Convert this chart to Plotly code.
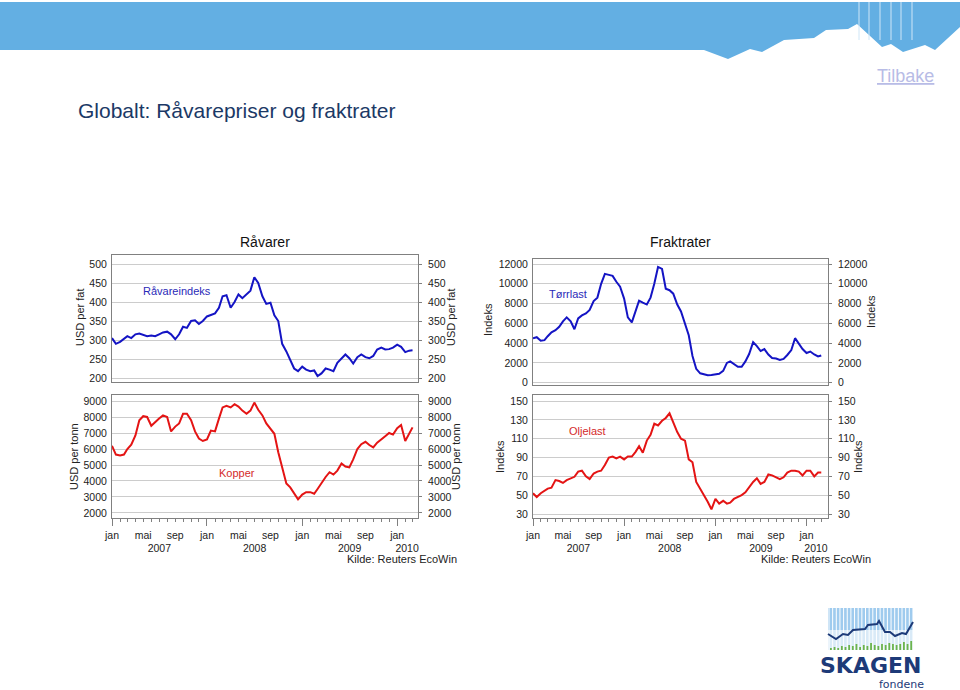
import plotly.graph_objects as go

# semi-monthly observation dates, Jan 2007 .. Mar 2010
dates = [f"{2007 + k // 24}-{(k // 2) % 12 + 1:02d}-{'01' if k % 2 == 0 else '16'}" for k in range(77)]

ravareindeks = [305, 290, 295, 302, 310, 305, 315, 317, 313, 310, 312, 310, 315, 320, 322, 315,
                302, 315, 335, 332, 350, 352, 342, 350, 362, 365, 370, 385, 415, 418, 385, 400,
                420, 410, 420, 430, 465, 450, 415, 395, 398, 365, 350, 290, 270, 245, 225, 218,
                230, 222, 218, 220, 205, 212, 225, 222, 218, 240, 250, 262, 252, 238, 255, 262,
                255, 252, 258, 275, 280, 275, 276, 280, 288, 282, 268, 272, 273]

kopper = [6200, 5650, 5600, 5650, 6000, 6270, 6850, 7800, 8050, 8000, 7450, 7700, 7900, 8100, 8000, 7100,
          7400, 7600, 8200, 8200, 7800, 7100, 6650, 6500, 6600, 7150, 7100, 7900, 8600, 8700, 8600, 8800,
          8650, 8400, 8200, 8400, 8900, 8450, 8100, 7600, 7300, 6950, 5800, 4800, 3850, 3600, 3250, 2850,
          3150, 3300, 3300, 3200, 3500, 3900, 4250, 4550, 4400, 4650, 5100, 4900, 4850, 5350, 6000, 6300,
          6450, 6250, 6100, 6400, 6580, 6800, 7000, 6900, 7300, 7500, 6500, 7000, 7350]

torrlast = [4500, 4600, 4250, 4300, 4700, 5100, 5300, 5650, 6200, 6600, 6200, 5400, 6500, 6800, 7000, 7350,
            8250, 8600, 10000, 11000, 10900, 10800, 10200, 9700, 8500, 6600, 6100, 7200, 8300, 8100, 7900, 8600,
            10000, 11700, 11500, 9500, 9350, 9000, 7900, 7200, 5950, 4800, 2700, 1400, 950, 850, 750, 780,
            830, 900, 1200, 2000, 2150, 1900, 1600, 1600, 2150, 2900, 4100, 3700, 3200, 3400, 2850, 2500,
            2450, 2300, 2400, 2800, 3300, 4500, 4000, 3400, 3000, 3150, 2850, 2650, 2750]

oljelast = [52, 48, 52, 55, 57, 58, 66, 65, 63, 66, 68, 69.5, 75, 76, 70, 67,
            73, 75, 76, 82, 90, 91, 89, 91, 88, 91, 91, 96, 102, 95, 108, 114,
            126, 124, 129, 132, 137, 127, 117, 110, 108, 88, 85, 64, 57, 49, 43, 35,
            46, 41, 44, 41, 42, 46, 48, 50, 53, 59, 64, 68, 62, 64, 72, 71,
            69, 67, 69, 74, 76, 76, 75, 71, 76, 76, 70, 74, 74]

month_ticks = ["2007-01-01", "2007-05-01", "2007-09-01", "2008-01-01", "2008-05-01", "2008-09-01",
               "2009-01-01", "2009-05-01", "2009-09-01", "2010-01-01"]
month_text = ["jan", "mai", "sep", "jan", "mai", "sep", "jan", "mai", "sep", "jan"]
year_ticks = ["2007-07-02", "2008-07-02", "2009-07-02", "2010-02-08"]
year_text = ["2007", "2008", "2009", "2010"]

W, H = 960, 690
def px(x): return x / W
def py(y): return 1 - y / H

FONT = "Liberation Sans"
BLUE = "#1414c4"
RED = "#e41414"
FRAME = "#808080"
GRID = "#cccccc"
TXT = "#222222"

fig = go.Figure()
fig.add_trace(go.Scatter(x=dates, y=ravareindeks, xaxis="x", yaxis="y", mode="lines",
                         line=dict(color=BLUE, width=2), showlegend=False))
fig.add_trace(go.Scatter(x=dates, y=kopper, xaxis="x2", yaxis="y2", mode="lines",
                         line=dict(color=RED, width=2), showlegend=False))
fig.add_trace(go.Scatter(x=dates, y=torrlast, xaxis="x3", yaxis="y3", mode="lines",
                         line=dict(color=BLUE, width=2), showlegend=False))
fig.add_trace(go.Scatter(x=dates, y=oljelast, xaxis="x4", yaxis="y4", mode="lines",
                         line=dict(color=RED, width=2), showlegend=False))

# empty helper traces so that the secondary (label / right-hand) axes get drawn
for xa, ya in [("x", "y5"), ("x2", "y6"), ("x3", "y7"), ("x4", "y8"),
               ("x5", "y2"), ("x6", "y4"), ("x7", "y2"), ("x8", "y4")]:
    fig.add_trace(go.Scatter(x=[None], y=[None], xaxis=xa, yaxis=ya, mode="lines",
                             showlegend=False, hoverinfo="skip"))

tickfont = dict(family=FONT, size=10.5, color=TXT)
LEFT_X = [px(112), px(418)]
RIGHT_X = [px(533), px(828)]
L_RANGE = ["2007-01-01", "2010-03-22"]
R_RANGE = ["2007-01-01", "2010-03-28"]

def xbase(dom, rng, anchor, bottom_ticks):
    d = dict(domain=dom, range=rng, anchor=anchor, type="date", showgrid=False,
             showline=True, mirror=True, linecolor=FRAME, linewidth=1, zeroline=False,
             showticklabels=False, fixedrange=True, automargin=False)
    if bottom_ticks:
        d.update(ticks="outside", ticklen=7, tickcolor=FRAME, dtick="M12", tick0="2007-01-01",
                 minor=dict(ticks="outside", ticklen=3, tickcolor=FRAME, dtick="M1",
                            tick0="2007-01-01", showgrid=False))
    else:
        d.update(ticks="")
    return d

def yleft(dom, rng, anchor, vals):
    return dict(domain=dom, range=rng, anchor=anchor, tickvals=vals, tickformat="d", showgrid=True,
                gridcolor=GRID, gridwidth=1, showline=True, mirror=True, linecolor=FRAME,
                zeroline=False, ticks="", tickfont=tickfont, ticklabelstandoff=2, fixedrange=True,
                automargin=False)

def yright(over, rng, anchor, vals):
    return dict(overlaying=over, side="right", range=rng, anchor=anchor, tickvals=vals,
                tickformat="d", showgrid=False, showline=False, zeroline=False, ticks="outside",
                ticklen=3, tickcolor=FRAME, tickfont=tickfont, ticklabelstandoff=4, fixedrange=True,
                automargin=False)

def xlabels(over, rng, anchor, vals, text, standoff):
    return dict(overlaying=over, anchor=anchor, side="bottom", range=rng, type="date",
                tickmode="array", tickvals=vals, ticktext=text, ticks="", showline=False,
                showgrid=False, zeroline=False, tickfont=tickfont, ticklabelstandoff=standoff,
                fixedrange=True, automargin=False)

v1 = [200, 250, 300, 350, 400, 450, 500]
v2 = [2000, 3000, 4000, 5000, 6000, 7000, 8000, 9000]
v3 = [0, 2000, 4000, 6000, 8000, 10000, 12000]
v4 = [30, 50, 70, 90, 110, 130, 150]
r1 = [189.5, 523.7]
r2 = [1687, 9375]
r3 = [-233, 12505]
r4 = [25.75, 156.4]

fig.update_layout(
    width=W, height=H, margin=dict(l=0, r=0, t=0, b=0, pad=0, autoexpand=False), autosize=False,
    paper_bgcolor="white", plot_bgcolor="white",
    xaxis=xbase(LEFT_X, L_RANGE, "y", False),
    xaxis2=xbase(LEFT_X, L_RANGE, "y2", True),
    xaxis3=xbase(RIGHT_X, R_RANGE, "y3", False),
    xaxis4=xbase(RIGHT_X, R_RANGE, "y4", True),
    xaxis5=xlabels("x2", L_RANGE, "y2", month_ticks, month_text, 9),
    xaxis6=xlabels("x4", R_RANGE, "y4", month_ticks, month_text, 9),
    xaxis7=xlabels("x2", L_RANGE, "y2", year_ticks, year_text, 22),
    xaxis8=xlabels("x4", R_RANGE, "y4", year_ticks, year_text, 22),
    yaxis=yleft([py(382), py(255)], r1, "x", v1),
    yaxis2=yleft([py(518), py(395)], r2, "x2", v2),
    yaxis3=yleft([py(385), py(259)], r3, "x3", v3),
    yaxis4=yleft([py(518), py(395)], r4, "x4", v4),
    yaxis5=yright("y", r1, "x", v1),
    yaxis6=yright("y2", r2, "x2", v2),
    yaxis7=yright("y3", r3, "x3", v3),
    yaxis8=yright("y4", r4, "x4", v4),
)

ann = []
def text(x, y, s, size=11, color=TXT, xanchor="center", angle=0, family=FONT):
    ann.append(dict(x=px(x), y=py(y), xref="paper", yref="paper", text=s, showarrow=False,
                    xanchor=xanchor, yanchor="middle", textangle=angle,
                    font=dict(family=family, size=size, color=color)))

text(76, 110, "Globalt: Råvarepriser og fraktrater", size=21, color="#1b3966", xanchor="left")
text(905, 76, "<u>Tilbake</u>", size=18, color="#b8bce6")
text(265, 242, "Råvarer", size=14, color="#111111")
text(680, 242, "Fraktrater", size=14, color="#111111")
text(141, 291, "Råvareindeks", size=11, color="#2a2ab8", xanchor="left")
text(217, 473, "Kopper", size=11, color="#d42a2a", xanchor="left")
text(547, 294, "Tørrlast", size=11, color="#2a2ab8", xanchor="left")
text(567, 431, "Oljelast", size=11, color="#d42a2a", xanchor="left")
text(80, 318, "USD per fat", angle=-90)
text(451, 318, "USD per fat", angle=-90)
text(74, 457, "USD per tonn", angle=-90)
text(456, 457, "USD per tonn", angle=-90)
text(488, 320, "Indeks", angle=-90)
text(871, 312, "Indeks", angle=-90)
text(500, 457, "Indeks", angle=-90)
text(858, 457, "Indeks", angle=-90)
text(459, 559, "Kilde: Reuters EcoWin", size=11, xanchor="right")
text(873, 559, "Kilde: Reuters EcoWin", size=11, xanchor="right")
text(870, 665, "<b>SKAGEN</b>", size=22, color="#1d3a78", family="DejaVu Sans", xanchor="center")
text(901, 684, "fondene", size=11, color="#1d3a78", family="DejaVu Sans", xanchor="center")

shapes = []
def path(points, fill, line=None):
    d = "M " + " L ".join(f"{px(x)},{py(y)}" for x, y in points) + " Z"
    shapes.append(dict(type="path", xref="paper", yref="paper", path=d, fillcolor=fill,
                       line=dict(width=0 if line is None else 1, color=line or fill), layer="above"))

# top banner
banner = [(0, 2), (960, 2), (960, 27), (935, 50), (925, 45), (903, 52), (891, 44), (882, 47),
          (857, 24), (848, 29), (826, 30), (814, 38), (784, 40), (762, 52), (750, 49),
          (728, 59), (704, 50), (0, 50)]
path(banner, "#63afe3")
for sx in [859, 869, 880, 891, 901, 912]:
    shapes.append(dict(type="line", xref="paper", yref="paper", x0=px(sx), x1=px(sx),
                       y0=py(2), y1=py(40), line=dict(color="#cfe6f7", width=1), layer="above"))

# logo
shapes.append(dict(type="rect", xref="paper", yref="paper", x0=px(828), x1=px(913), y0=py(630),
                   y1=py(608), fillcolor="#9fcbee", line=dict(width=0)))
shapes.append(dict(type="rect", xref="paper", yref="paper", x0=px(828), x1=px(913), y0=py(650),
                   y1=py(630), fillcolor="#d9eaf7", line=dict(width=0)))
for i in range(24):
    sx = 829 + i * 3.65
    shapes.append(dict(type="line", xref="paper", yref="paper", x0=px(sx), x1=px(sx),
                       y0=py(608), y1=py(650), line=dict(color="white", width=1)))
bar_h = [2, 3, 2, 4, 3, 5, 4, 6, 3, 5, 4, 7, 5, 4, 6, 5, 7, 6, 5, 6, 8, 6, 9]
for i, hgt in enumerate(bar_h):
    sx = 830 + i * 3.65
    shapes.append(dict(type="rect", xref="paper", yref="paper", x0=px(sx), x1=px(sx + 1.8),
                       y0=py(650), y1=py(650 - hgt), fillcolor="#6cb44c", line=dict(width=0)))
logo_line = [(828, 634), (836, 639), (843, 634), (848, 635), (853, 630), (865, 629), (868, 625),
             (877, 624), (879, 621), (885, 632), (890, 632), (895, 636), (902, 633), (906, 634),
             (913, 622)]
d = "M " + " L ".join(f"{px(x)},{py(y)}" for x, y in logo_line)
shapes.append(dict(type="path", xref="paper", yref="paper", path=d,
                   line=dict(color="#1d3a78", width=2)))

fig.update_layout(annotations=ann, shapes=shapes)

fig.write_html("out.html", config={"displayModeBar": False, "displaylogo": False},
               post_script="document.body.style.margin='0';")
